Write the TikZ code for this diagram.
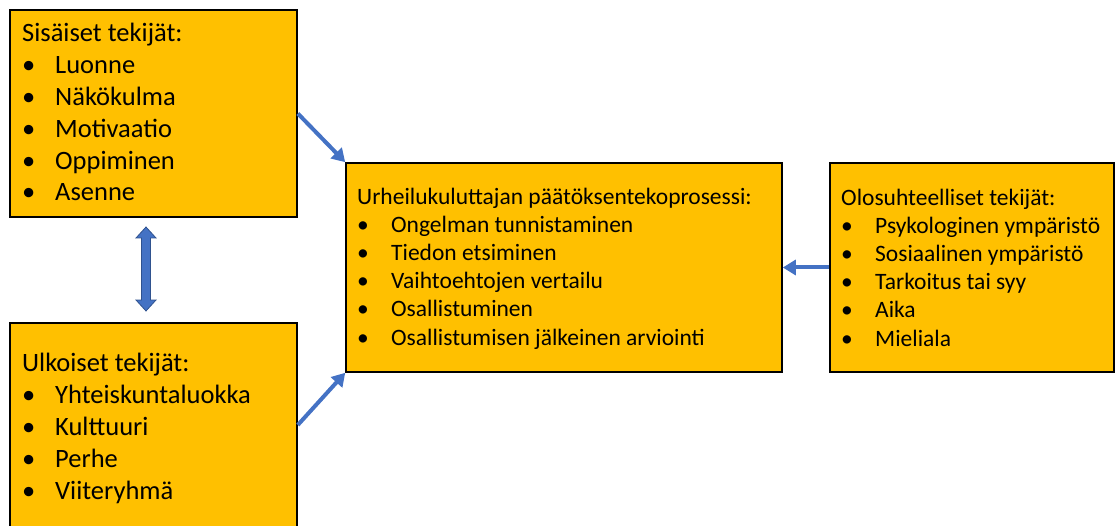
\documentclass[tikz,border=0pt]{standalone}
\usepackage{fontspec}
\setmainfont{Carlito}
\usetikzlibrary{arrows.meta,calc}
\definecolor{boxfill}{HTML}{FFC000}
\definecolor{arrblue}{HTML}{4472C4}
\definecolor{arrdark}{HTML}{2F528F}
\newcommand{\bl}{\makebox[33pt][l]{•}}
\newcommand{\blc}{\makebox[34pt][l]{•}}
\begin{document}
\begin{tikzpicture}[x=1pt,y=-1pt,
  box/.style={draw=black,line width=1.6pt,fill=boxfill,inner sep=0pt,rectangle},
  bigtxt/.style={inner sep=0pt,anchor=base west,align=left,font=\fontsize{26.5}{31.8}\selectfont},
  smalltxt/.style={inner sep=0pt,anchor=base west,align=left,font=\fontsize{23.5}{28.2}\selectfont},
  conn/.style={draw=arrblue,line width=4pt,-{Triangle[width=15pt,length=13pt]}}]
\useasboundingbox (0,0) rectangle (1115,526);
\clip (0,0) rectangle (1115,526);
\node[box,minimum width=287pt,minimum height=207pt] (b1) at (153.5,113.5) {};
\node[box,minimum width=287pt,minimum height=204pt] (b2) at (153.5,425) {};
\node[box,minimum width=436pt,minimum height=209pt] (c) at (564,267.5) {};
\node[box,minimum width=284pt,minimum height=209pt] (r) at (972,267.5) {};
\node[bigtxt] (t1) at (22,201) {Sisäiset tekijät:\\\bl Luonne\\\bl Näkökulma\\\bl Motivaatio\\\bl Oppiminen\\\bl Asenne};
\node[bigtxt] (t2) at (22,499) {Ulkoiset tekijät:\\\bl Yhteiskuntaluokka\\\bl Kulttuuri\\\bl Perhe\\\bl Viiteryhmä};
\node[smalltxt] (tc) at (357,345) {Urheilukuluttajan päätöksentekoprosessi:\\\blc Ongelman tunnistaminen\\\blc Tiedon etsiminen\\\blc Vaihtoehtojen vertailu\\\blc Osallistuminen\\\blc Osallistumisen jälkeinen arviointi};
\node[smalltxt] (tr) at (841,346) {Olosuhteelliset tekijät:\\\blc Psykologinen ympäristö\\\blc Sosiaalinen ympäristö\\\blc Tarkoitus tai syy\\\blc Aika\\\blc Mieliala};
\draw[conn] (b1.east) -- (c.north west);
\draw[conn] (b2.east) -- (c.south west);
\draw[conn] (r.west) -- (c.east);
\coordinate (d1) at (146,227);
\coordinate (d2) at (146,311);
\draw[fill=arrblue,draw=arrdark,line width=0.8pt] (d1) -- ++(10,11) -- ++(-5.5,0) -- ++(0,62) -- ++(5.5,0) -- (d2) -- ++(-10,-11) -- ++(5.5,0) -- ++(0,-62) -- ++(-5.5,0) -- cycle;
\end{tikzpicture}
\end{document}
